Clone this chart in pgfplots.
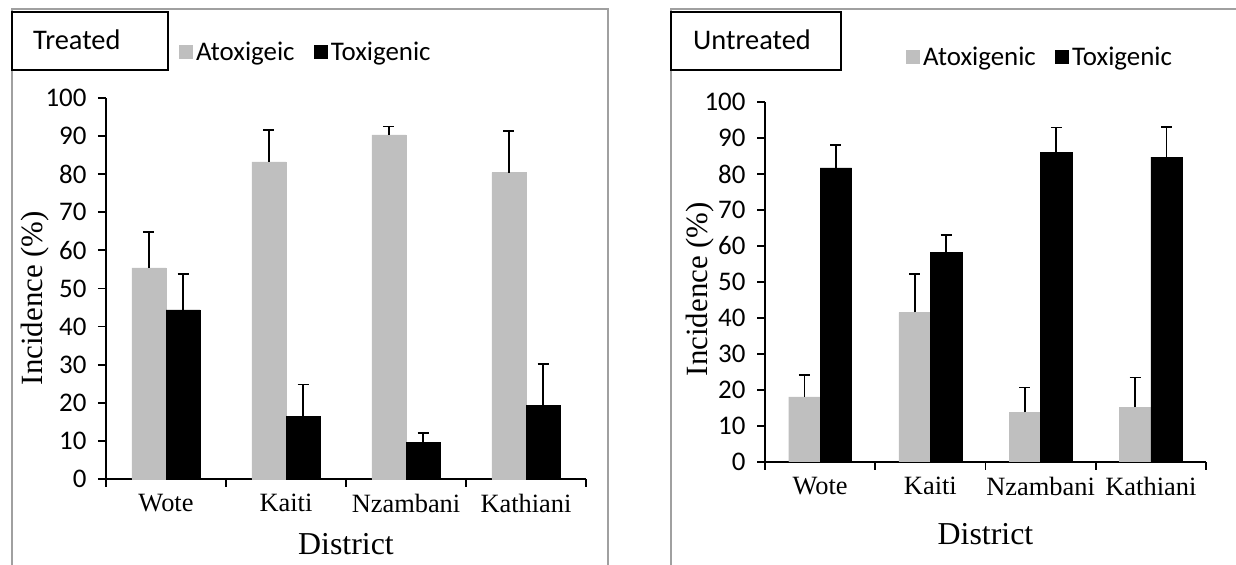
\documentclass[border=0pt]{standalone}
\usepackage{pgfplots}
\pgfplotsset{compat=1.18}
\usepackage{pgfplotstable}
\usepackage{fontspec}
\setmainfont{Liberation Serif}
\newfontfamily\calfont{Carlito}
\definecolor{lgray}{RGB}{191,191,191}
\definecolor{fgray}{RGB}{160,160,160}

\pgfplotstableread{
x atox atoxerr tox toxerr
0 55.4 9.4 44.4 9.5
1 83.2 8.4 16.5 8.3
2 90.3 2.2 9.6 2.4
3 80.4 11.0 19.3 10.9
}\treated

\pgfplotstableread{
x atox atoxerr tox toxerr
0 18.0 6.2 81.7 6.3
1 41.5 10.6 58.2 4.9
2 13.7 6.9 86.0 6.9
3 15.2 8.2 84.7 8.3
}\untreated

\pgfplotsset{
  panel/.style={
    scale only axis, anchor=south west,
    ymin=0, ymax=100, xmin=-0.5, xmax=3.5,
    axis x line=bottom, axis y line=left,
    axis line style={-, line width=1.8bp, black},
    ytick={0,10,...,100},
    xtick={-0.5,0.5,1.5,2.5,3.5}, xticklabels={},
    extra x ticks={0,1,2,3},
    extra x tick labels={Wote,Kaiti,Nzambani,Kathiani},
    extra x tick style={major tick length=0pt,
      xticklabel style={font=\fontsize{26.5}{30}\selectfont, yshift=-12bp}},
    tick align=outside, major tick length=8bp,
    tick style={line width=1.8bp, black},
    yticklabel style={font=\calfont\fontsize{27}{30}\selectfont, xshift=-8bp},
    /pgf/number format/assume math mode=true,
    ybar, bar width=0.285,
    clip=false,
    legend columns=2,
    legend style={draw=none, fill=none, inner xsep=0pt, inner ysep=0pt,
      font=\calfont\fontsize{27}{30}\selectfont, anchor=west,
      nodes={inner xsep=3.5bp},
      /tikz/every even column/.append style={column sep=16bp}},
    legend image code/.code={\fill[##1] (0bp,-6.5bp) rectangle (13bp,6.5bp);},
    ylabel style={font=\fontsize{31}{34}\selectfont},
    xlabel style={font=\fontsize{32}{35}\selectfont},
  },
  ebars/.style={error bars/.cd, y dir=plus, y explicit,
    error bar style={solid, line width=1.8bp, draw=black},
    error mark options={rotate=90, solid, line width=1.8bp, mark size=5.5bp, draw=black}},
}

\begin{document}
\begin{tikzpicture}[x=1bp,y=1bp]
\useasboundingbox (0,0) rectangle (1236,565);
\coordinate (LA) at (106,86);
\coordinate (RA) at (765,103.3);
\begin{scope}
\clip (0,0) rectangle (1236,565);
% outer frames
\draw[fgray, line width=2bp] (12,-5) -- (12,556) -- (608,556) -- (608,-5);
\draw[fgray, line width=2bp] (671,-5) -- (671,556) -- (1240,556);
\end{scope}
% title boxes
\draw[black, line width=1.6bp, fill=white] (12,553) rectangle (168,495);
\node[anchor=base west, inner sep=0pt, font=\calfont\fontsize{28.5}{31}\selectfont] at (33,515) {Treated};
\draw[black, line width=1.6bp, fill=white] (671,553) rectangle (841,495);
\node[anchor=base west, inner sep=0pt, font=\calfont\fontsize{28.5}{31}\selectfont] at (693,515) {Untreated};

\begin{axis}[panel, at={(LA)}, width=480bp, height=381bp,
  ylabel={Incidence (\%)}, xlabel={District},
  ylabel style={at={(axis description cs:-0.148,0.475)}, anchor=center},
  xlabel style={at={(axis description cs:0.5,-0.172)}, anchor=center},
  legend style={at={(axis description cs:0.152,1.121)}}]
\addplot[fill=lgray, draw=lgray, bar shift=-0.1425, ebars]
  table[x=x, y=atox, y error=atoxerr]{\treated};
\addplot[fill=black, draw=black, bar shift=0.1425, ebars]
  table[x=x, y=tox, y error=toxerr]{\treated};
\legend{Atoxigeic, Toxigenic}
\end{axis}

\begin{axis}[panel, at={(RA)}, width=441bp, height=359.7bp,
  ylabel={Incidence (\%)}, xlabel={District},
  ylabel style={at={(axis description cs:-0.147,0.48)}, anchor=center},
  xlabel style={at={(axis description cs:0.5,-0.201)}, anchor=center},
  legend style={at={(axis description cs:0.320,1.125)}}]
\addplot[fill=lgray, draw=lgray, bar shift=-0.1425, ebars]
  table[x=x, y=atox, y error=atoxerr]{\untreated};
\addplot[fill=black, draw=black, bar shift=0.1425, ebars]
  table[x=x, y=tox, y error=toxerr]{\untreated};
\legend{Atoxigenic, Toxigenic}
\end{axis}
\end{tikzpicture}
\end{document}
